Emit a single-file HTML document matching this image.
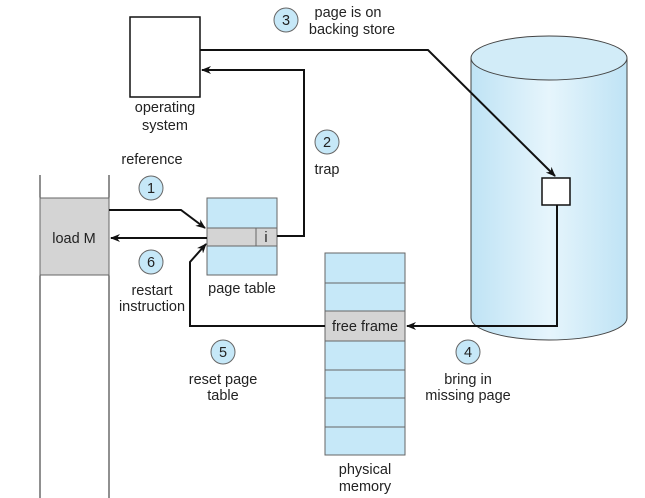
<!DOCTYPE html>
<html><head><style>body{margin:0;background:#fff}svg{display:block}text{font-family:"Liberation Sans",sans-serif;font-size:14.5px;fill:#222}</style></head><body>
<svg width="645" height="498" viewBox="0 0 645 498">
<defs>
<linearGradient id="cyl" x1="0" x2="1"><stop offset="0" stop-color="#bfe3f5"/><stop offset="0.5" stop-color="#e6f5fc"/><stop offset="1" stop-color="#bfe3f5"/></linearGradient>
<marker id="a" markerWidth="10" markerHeight="8" refX="9" refY="4" orient="auto" markerUnits="userSpaceOnUse"><path d="M0,0 L10,4 L0,8 L3,4z" fill="#111"/></marker>
</defs>
<path d="M471,58 L471,318 A78,22 0 0 0 627,318 L627,58" fill="url(#cyl)" stroke="#444"/>
<ellipse cx="549" cy="58" rx="78" ry="22" fill="#d2ecf8" stroke="#444"/>
<rect x="542" y="178" width="28" height="27" fill="#fff" stroke="#111" stroke-width="1.5"/>
<rect x="130" y="17" width="70" height="80" fill="#fff" stroke="#111" stroke-width="1.5"/>
<text x="165" y="112" text-anchor="middle">operating</text><text x="165" y="130" text-anchor="middle">system</text>
<line x1="40" y1="175" x2="40" y2="498" stroke="#222"/><line x1="109" y1="175" x2="109" y2="498" stroke="#222"/>
<rect x="40" y="198" width="69" height="77" fill="#d4d4d4" stroke="#666"/>
<text x="74" y="243" text-anchor="middle">load M</text>
<rect x="207" y="198" width="70" height="77" fill="#c6e8f8" stroke="#666"/>
<rect x="207" y="228" width="70" height="18" fill="#d4d4d4" stroke="#666"/>
<line x1="256" y1="228" x2="256" y2="246" stroke="#666"/>
<text x="266" y="242" text-anchor="middle">i</text>
<text x="242" y="293" text-anchor="middle">page table</text>
<rect x="325" y="253" width="80" height="202" fill="#c6e8f8" stroke="#666"/>
<rect x="325" y="311" width="80" height="30" fill="#d4d4d4" stroke="#666"/>
<g stroke="#666"><line x1="325" y1="283" x2="405" y2="283"/><line x1="325" y1="370" x2="405" y2="370"/><line x1="325" y1="398" x2="405" y2="398"/><line x1="325" y1="427" x2="405" y2="427"/></g>
<text x="365" y="331" text-anchor="middle">free frame</text>
<text x="365" y="474" text-anchor="middle">physical</text><text x="365" y="491" text-anchor="middle">memory</text>
<g fill="none" stroke="#111" stroke-width="2">
<polyline points="109,210 181,210 205,228" marker-end="url(#a)"/>
<line x1="207" y1="238" x2="111" y2="238" marker-end="url(#a)"/>
<polyline points="277,236 304,236 304,70 202,70" marker-end="url(#a)"/>
<polyline points="200,50 428,50 555,176" marker-end="url(#a)"/>
<polyline points="557,205 557,326 407,326" marker-end="url(#a)"/>
<polyline points="325,326 190,326 190,262 206,244" marker-end="url(#a)"/>
</g>
<g fill="#c6e8f8" stroke="#666">
<circle cx="151" cy="188" r="12"/><circle cx="151" cy="262" r="12"/><circle cx="327" cy="142" r="12"/><circle cx="286" cy="20" r="12"/><circle cx="468" cy="352" r="12"/><circle cx="223" cy="352" r="12"/>
</g>
<g text-anchor="middle">
<text x="151" y="193">1</text><text x="151" y="267">6</text><text x="327" y="147">2</text><text x="286" y="25">3</text><text x="468" y="357">4</text><text x="223" y="357">5</text>
<text x="152" y="164">reference</text>
<text x="152" y="295">restart</text><text x="152" y="311">instruction</text>
<text x="327" y="174">trap</text>
<text x="348" y="17">page is on</text><text x="352" y="34">backing store</text>
<text x="468" y="384">bring in</text><text x="468" y="400">missing page</text>
<text x="223" y="384">reset page</text><text x="223" y="400">table</text>
</g>
</svg></body></html>
